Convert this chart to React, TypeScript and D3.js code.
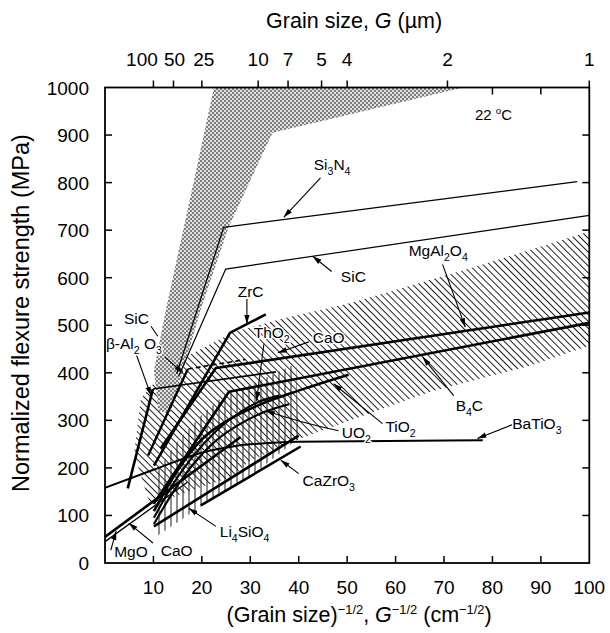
import React from "react";
import * as d3 from "d3";

type Pt = [number, number];

// ---- axes -------------------------------------------------------------
const strengthTicks = [0, 100, 200, 300, 400, 500, 600, 700, 800, 900, 1000];
const inverseRootTicks = [10, 20, 30, 40, 50, 60, 70, 80, 90, 100];
const grainSizeTicks = [100, 50, 25, 10, 7, 5, 4, 2, 1]; // µm
const topInnerTicks = [80, 90];

// ---- shaded ranges (x: G^-1/2 in cm^-1/2, y: MPa) ----------------------
const si3n4Range: Pt[] = [
  [22.5, 1000], [74, 1000], [34.6, 905], [25.6, 708], [19.8, 534], [16.1, 404],
  [13.6, 318], [11.1, 318], [10.1, 404], [12.6, 534], [18.4, 806],
];
const diagonalRange: Pt[] = [
  [8.9, 136], [6, 230], [7.4, 346], [12.6, 408], [17.1, 436], [26.6, 486], [36.3, 513],
  [50.7, 547], [76.1, 622], [100, 697], [100, 457], [87.8, 415], [67.2, 360], [53.4, 310],
  [40.4, 262], [30, 215], [26, 181], [16.3, 147], [9.5, 121],
];
const verticalRange: Pt[] = [
  [10.1, 52], [10.1, 184], [15, 256], [19.8, 310], [24.5, 352], [31.5, 381], [38.4, 415],
  [39.5, 415], [40, 262], [30.1, 183], [19.8, 119],
];

// ---- Petch lines ------------------------------------------------------
const si3n4: Pt[] = [[14.8, 398], [24.5, 706], [97.5, 802]];
const sic: Pt[] = [[15.2, 392], [24.9, 618], [100, 731]];
const zrc: Pt[] = [[10.1, 205], [25.8, 484], [33.2, 523]];
const betaAluminaSteep: Pt[] = [[4.7, 157], [9.9, 366]];
const betaAluminaFlat: Pt[] = [[9.9, 366], [35.3, 402]];
const mgal2o4: Pt[] = [[11.5, 241], [22.9, 410], [100, 527]];
const b4c: Pt[] = [[10.1, 125], [25.6, 360], [100, 505]];
const caoUpper: Pt[] = [[8.9, 226], [17.1, 408]];
const caoUpperDashed: Pt[] = [[17.1, 408], [29, 428]];
const batio3: Pt[] = [[0, 158], [10, 196], [20, 232], [27, 246], [33, 252], [40, 255], [78, 258]];
const mgo: Pt[] = [[0, 55], [28, 265]];
const caoLower: Pt[] = [[0, 45], [17, 170]];
const tio2: Pt[] = [[10.1, 109], [15, 195], [19.8, 258], [25, 298], [31.5, 331], [39.8, 362], [50.3, 396]];
const tho2: Pt[] = [[10.1, 95], [14, 165], [18, 222], [23, 278], [28, 318], [32, 340], [36, 352]];
const uo2: Pt[] = [[10.1, 82], [14, 148], [18, 205], [23, 258], [28, 293], [33, 318], [38, 334]];
const li4sio4: Pt[] = [[10.1, 77], [40, 268]];
const cazro3: Pt[] = [[19.8, 121], [40.4, 245]];

// ---- annotations ------------------------------------------------------
const labelTexts = [
  "Si_3N_4", "SiC", "MgAl_2O_4", "ZrC", "ThO_2", "CaO", "SiC", "β-Al_2 O_3",
  "B_4C", "UO_2", "TiO_2", "BaTiO_3", "CaZrO_3", "Li_4SiO_4", "MgO", "CaO",
];
const labelAnchors: Pt[] = [
  [43.1, 826], [48.7, 592], [62.7, 645], [27.4, 560], [30.7, 474], [42.9, 462], [3.9, 502], [0.2, 450],
  [72.4, 320], [48.9, 262], [57.9, 275], [84.1, 282], [40.8, 162], [23.7, 55], [1.9, 12], [11.5, 14],
];
const arrowFrom: Pt[] = [
  [44.5, 810], [46.8, 613], [69.7, 628], [29.3, 555], [32.8, 460], [42.1, 465], [12.4, 433],
  [6.4, 440], [72, 352], [57.3, 293], [84.1, 291], [40, 188], [22.9, 77], [1.2, 27], [9.9, 42],
];
const arrowTo: Pt[] = [
  [36.9, 727], [42.9, 645], [74.4, 496], [29.3, 503], [31.3, 341], [35.7, 442], [16.1, 400],
  [9.5, 352], [65.6, 433], [47.2, 377], [76.9, 262], [36.3, 216], [17.3, 115], [2.3, 67], [4.9, 84],
];
const sicLeaderStub: Pt[] = [[9.5, 498], [10.9, 477]];
const uo2Leader: Pt[] = [[48.2, 278], [40.4, 295], [33.2, 320]];
const temperatureAnchor: Pt = [76.4, 932];

const FONT = "'Liberation Sans', Arial, Helvetica, sans-serif";

type Seg = { t: string; shift: number; scale: number; italic?: boolean };

// Renders a run of segments, each optionally raised/lowered and scaled.
function segments(segs: Seg[], size: number) {
  let cur = 0;
  return segs.map((s, i) => {
    const dy = s.shift * size - cur;
    cur = s.shift * size;
    return (
      <tspan key={i} dy={dy === 0 ? undefined : dy} fontSize={size * s.scale}
        fontStyle={s.italic ? "italic" : undefined}>
        {s.t}
      </tspan>
    );
  });
}

// "_x" marks a subscript character.
function chemical(text: string, size: number) {
  const segs: Seg[] = [];
  for (let i = 0; i < text.length; i++) {
    const c = text[i];
    if (c === "_") {
      segs.push({ t: text[i + 1], shift: 0.32, scale: 0.68 });
      i++;
    } else {
      const last = segs[segs.length - 1];
      if (last && last.shift === 0) last.t += c;
      else segs.push({ t: c, shift: 0, scale: 1 });
    }
  }
  return segments(segs, size);
}

export default function App() {
  const W = 610;
  const H = 633;
  const x = d3.scaleLinear().domain([0, 100]).range([105, 589.3]);
  const y = d3.scaleLinear().domain([0, 1000]).range([563, 87.5]);
  const [x0, x1] = x.range();
  const [y0, y1] = y.range();

  const straight = d3.line<Pt>().x((d) => x(d[0])).y((d) => y(d[1]));
  const smooth = d3
    .line<Pt>()
    .x((d) => x(d[0]))
    .y((d) => y(d[1]))
    .curve(d3.curveMonotoneX);
  const area = (pts: Pt[]) => straight(pts) + "Z";

  const series = [
    { d: si3n4, w: 1.2, curve: false },
    { d: sic, w: 1.2, curve: false },
    { d: betaAluminaFlat, w: 1.6, curve: false },
    { d: zrc, w: 2.6, curve: false },
    { d: betaAluminaSteep, w: 2.6, curve: false },
    { d: mgal2o4, w: 2.6, curve: false },
    { d: b4c, w: 2.6, curve: false },
    { d: caoUpper, w: 2.4, curve: false },
    { d: batio3, w: 2.0, curve: true },
    { d: mgo, w: 2.6, curve: false },
    { d: caoLower, w: 1.3, curve: false },
    { d: tio2, w: 2.6, curve: true },
    { d: tho2, w: 2.1, curve: true },
    { d: uo2, w: 2.1, curve: true },
    { d: li4sio4, w: 2.6, curve: false },
    { d: cazro3, w: 2.6, curve: false },
  ];

  const tickLen = 7;
  const tickFont = 19;
  const titleFont = 21.5;
  const yTitleFont = 23.5;
  const labelFont = 15.5;

  // small nudges keep the crowded coarse-grain labels apart
  const topLabelNudge: Record<number, number> = { 100: -11.5, 50: 1, 25: 2 };

  const bottomTitle: Seg[] = [
    { t: "(Grain size)", shift: 0, scale: 1 },
    { t: "−1/2", shift: -0.36, scale: 0.6 },
    { t: ", ", shift: 0, scale: 1 },
    { t: "G", shift: 0, scale: 1, italic: true },
    { t: "−1/2", shift: -0.36, scale: 0.6 },
    { t: " (cm", shift: 0, scale: 1 },
    { t: "−1/2", shift: -0.36, scale: 0.6 },
    { t: ")", shift: 0, scale: 1 },
  ];

  return (
    <svg
      width={W}
      height={H}
      viewBox={`0 0 ${W} ${H}`}
      style={{ position: "absolute", left: 0, top: 0, background: "#fff" }}
      fontFamily={FONT}
    >
      <defs>
        <clipPath id="plotArea">
          <rect x={x0} y={y1} width={x1 - x0} height={y0 - y1} />
        </clipPath>
        <pattern id="stipple" width={4} height={4} patternUnits="userSpaceOnUse">
          <rect width={4} height={4} fill="#e2e2e2" />
          <rect width={2} height={2} fill="#7c7c7c" />
          <rect x={2} y={2} width={2} height={2} fill="#7c7c7c" />
        </pattern>
        <pattern id="diagHatch" width={4.9} height={4.9} patternUnits="userSpaceOnUse" patternTransform="rotate(-45)">
          <line x1={2.45} y1={-1} x2={2.45} y2={6} stroke="#1e1e1e" strokeWidth={1} />
        </pattern>
        <pattern id="vertHatch" width={6} height={10} patternUnits="userSpaceOnUse">
          <line x1={3} y1={-1} x2={3} y2={11} stroke="#1e1e1e" strokeWidth={1} />
        </pattern>
        <marker id="head" viewBox="0 0 10 6" refX={10} refY={3} markerWidth={9} markerHeight={6}
          markerUnits="userSpaceOnUse" orient="auto">
          <path d="M0,0 L10,3 L0,6 Z" fill="#000" />
        </marker>
      </defs>

      <g clipPath="url(#plotArea)">
        <path d={area(diagonalRange)} fill="url(#diagHatch)" />
        <path d={area(verticalRange)} fill="url(#vertHatch)" />
        <path d={area(si3n4Range)} fill="url(#stipple)" />

        {series.map((s, i) => (
          <path key={i} d={(s.curve ? smooth : straight)(s.d) || ""} fill="none"
            stroke="#000" strokeWidth={s.w} strokeLinejoin="round" />
        ))}
        <path d={straight(caoUpperDashed) || ""} fill="none" stroke="#000" strokeWidth={1.6}
          strokeDasharray="5,3" />

        {/* leaders */}
        {arrowFrom.map((f, i) => (
          <line key={i} x1={x(f[0])} y1={y(f[1])} x2={x(arrowTo[i][0])} y2={y(arrowTo[i][1])}
            stroke="#000" strokeWidth={1.1} markerEnd="url(#head)" />
        ))}
        <line x1={x(sicLeaderStub[0][0])} y1={y(sicLeaderStub[0][1])}
          x2={x(sicLeaderStub[1][0])} y2={y(sicLeaderStub[1][1])} stroke="#000" strokeWidth={1.1} />
        <path
          d={`M${x(uo2Leader[0][0])},${y(uo2Leader[0][1])} Q${x(uo2Leader[1][0])},${y(uo2Leader[1][1])} ${x(uo2Leader[2][0])},${y(uo2Leader[2][1])}`}
          fill="none" stroke="#000" strokeWidth={1.1} markerEnd="url(#head)" />

        {/* labels */}
        {labelTexts.map((t, i) => (
          <text key={i} x={x(labelAnchors[i][0])} y={y(labelAnchors[i][1])} fontSize={labelFont}
            fill="#000" stroke="#fff" strokeWidth={3} strokeLinejoin="round"
            style={{ paintOrder: "stroke", whiteSpace: "pre" }}>
            {chemical(t, labelFont)}
          </text>
        ))}
        <text x={x(temperatureAnchor[0])} y={y(temperatureAnchor[1])} fontSize={15} style={{ whiteSpace: "pre" }}>
          {segments([
            { t: "22 ", shift: 0, scale: 1 },
            { t: "o", shift: -0.36, scale: 0.65 },
            { t: "C", shift: 0, scale: 1 },
          ], 15)}
        </text>
      </g>

      {/* frame */}
      <rect x={x0} y={y1} width={x1 - x0} height={y0 - y1} fill="none" stroke="#000" strokeWidth={1.8} />

      {/* bottom axis */}
      {inverseRootTicks.map((t) => (
        <g key={"b" + t}>
          {t < 100 && <line x1={x(t)} x2={x(t)} y1={y0} y2={y0 - tickLen} stroke="#000" strokeWidth={1.5} />}
          <text x={x(t)} y={y0 + 31} fontSize={tickFont} textAnchor="middle">{t}</text>
        </g>
      ))}
      {/* top axis: grain size */}
      {grainSizeTicks.map((g) => {
        const v = 100 / Math.sqrt(g);
        const lx = x(v) + (topLabelNudge[g] || 0);
        return (
          <g key={"t" + g}>
            <line x1={x(v)} x2={x(v)} y1={y1} y2={y1 - tickLen} stroke="#000" strokeWidth={1.5} />
            <text x={lx} y={y1 - 22} fontSize={tickFont} textAnchor="middle">{g}</text>
          </g>
        );
      })}
      {topInnerTicks.map((t) => (
        <line key={"ti" + t} x1={x(t)} x2={x(t)} y1={y1} y2={y1 + tickLen} stroke="#000" strokeWidth={1.5} />
      ))}
      {/* left and right axes */}
      {strengthTicks.map((t) => (
        <g key={"l" + t}>
          {t > 0 && t < 1000 && (
            <>
              <line x1={x0} x2={x0 + tickLen} y1={y(t)} y2={y(t)} stroke="#000" strokeWidth={1.5} />
              <line x1={x1} x2={x1 - tickLen} y1={y(t)} y2={y(t)} stroke="#000" strokeWidth={1.5} />
            </>
          )}
          <text x={x0 - 16} y={y(t) + 7} fontSize={tickFont} textAnchor="end">{t}</text>
        </g>
      ))}

      {/* axis titles */}
      <text x={(x0 + x1) / 2 + 7} y={28} fontSize={titleFont} textAnchor="middle" style={{ whiteSpace: "pre" }}>
        {segments([
          { t: "Grain size, ", shift: 0, scale: 1 },
          { t: "G", shift: 0, scale: 1, italic: true },
          { t: " (µm)", shift: 0, scale: 1 },
        ], titleFont)}
      </text>
      <text x={(x0 + x1) / 2 + 12} y={622} fontSize={titleFont} textAnchor="middle" style={{ whiteSpace: "pre" }}>
        {segments(bottomTitle, titleFont)}
      </text>
      <text transform={`translate(29,313) rotate(-90)`} fontSize={yTitleFont} textAnchor="middle">
        Normalized flexure strength (MPa)
      </text>
    </svg>
  );
}
